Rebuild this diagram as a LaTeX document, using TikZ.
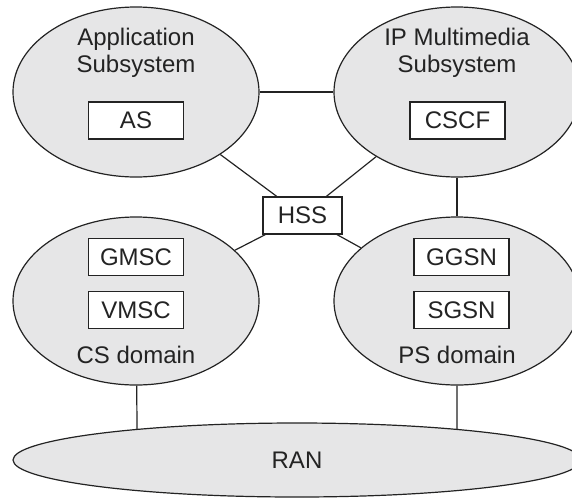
\documentclass[tikz,border=0pt]{standalone}
\usepackage{fontspec}
\setmainfont{Liberation Sans}
\usepackage{tikz}
\usetikzlibrary{shapes.geometric, positioning}

\definecolor{domaingray}{RGB}{230,230,231}
\definecolor{inkgray}{RGB}{35,35,35}

\begin{document}
\begin{tikzpicture}[x=1pt,y=-1pt,line width=1.2pt,color=inkgray,
                    node distance=53pt]
\tikzstyle{netdomain}=[ellipse,draw,fill=domaingray,minimum width=246pt,minimum height=170pt,inner sep=0pt]
\tikzstyle{element}=[rectangle,draw,fill=white,minimum width=95pt,minimum height=37pt,inner sep=2pt]
\tikzset{font=\fontsize{24pt}{27pt}\selectfont}

        \useasboundingbox (0,0) rectangle (572,498);
        \clip (0,0) rectangle (572,498);

        % upper row
        \node[netdomain]                        (as)      at (136,92)      {};
        \node[align=center]                     (astitle) at (136,53.25)   {Application\\Subsystem};
        \node[element]                          (asbox)   at (136,120.5)   {AS};

        \node[netdomain]                        (ims)     at (457,92)      {};
        \node[align=center]                     (imstitle) at (457,53.25)  {IP Multimedia\\Subsystem};
        \node[element]                          (cscf)    at (457.5,120.5) {CSCF};

        % lower row
        \node[netdomain, minimum height=168pt]  (cs)      at (136,301)     {};
        \node[element]                          (gmsc)    at (136,257)     {GMSC};
        \node[element]                          (vmsc)    [below of=gmsc]  {VMSC};
        \node[anchor=base]                      (csname)  at (136,363)     {CS domain};

        \node[netdomain, minimum height=168pt]  (ps)      at (457,301)     {};
        \node[element]                          (ggsn)    at (461.5,257)   {GGSN};
        \node[element]                          (sgsn)    [below of=ggsn]  {SGSN};
        \node[anchor=base]                      (psname)  at (457,363)     {PS domain};

        \node[netdomain, minimum width=568pt, minimum height=74pt] (ran) at (297,460) {RAN};

        \node[element, minimum width=79pt]      (hss)     at (302.5,215.5) {HSS};

        \path
        (as)    edge            (ims)
        (as)    edge            (hss)
        (ims)   edge            (hss)
        (cs)    edge            (hss)
        (hss)   edge            (ps)
        (ims)   edge            (ps)
        (cs)    edge            (ran.169)
        (ps)    edge            (ran.11)
        ; %end path

\end{tikzpicture}
\end{document}
